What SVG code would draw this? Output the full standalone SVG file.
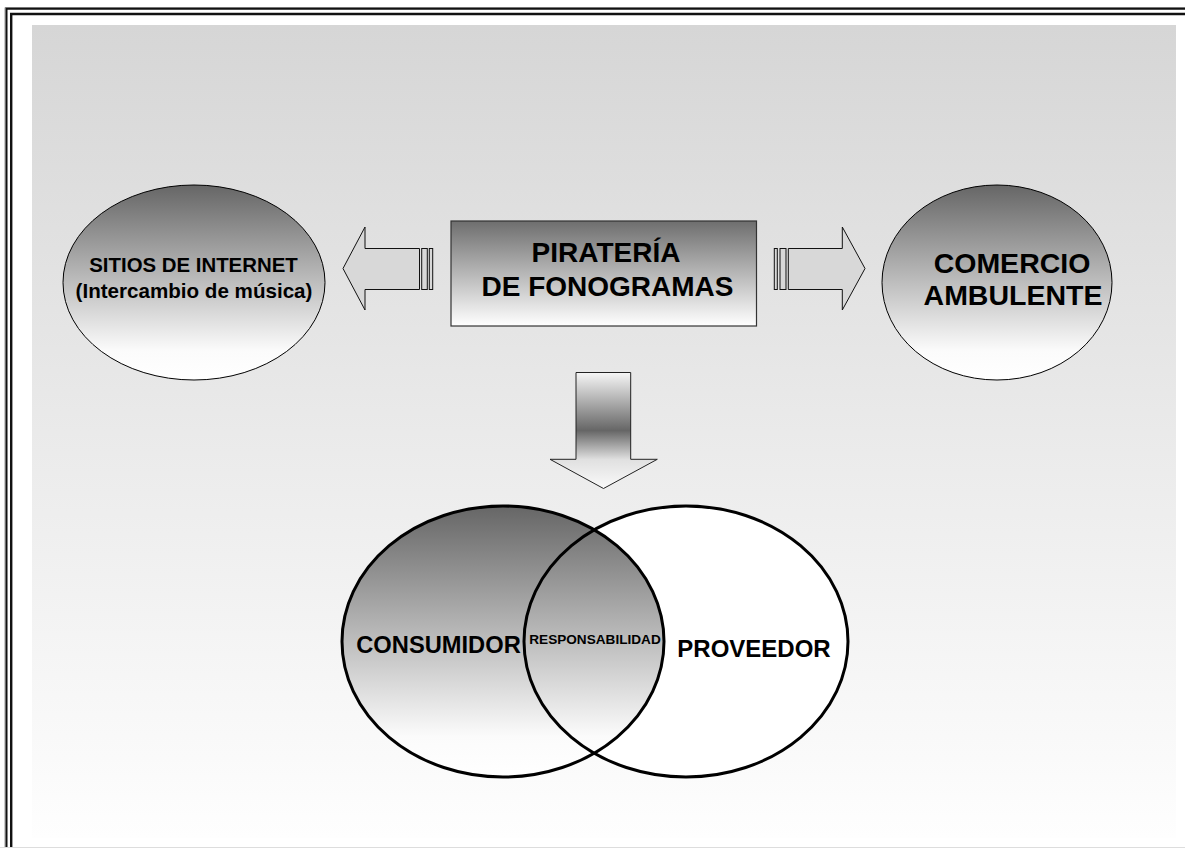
<svg xmlns="http://www.w3.org/2000/svg" width="1185" height="848" viewBox="0 0 1185 848">
<defs>
<linearGradient id="bg" x1="0" y1="0" x2="0" y2="1">
<stop offset="0" stop-color="#d6d6d6"/>
<stop offset="1" stop-color="#fefefe"/>
</linearGradient>
<linearGradient id="dk" x1="0" y1="0" x2="0" y2="1">
<stop offset="0" stop-color="#666666"/>
<stop offset="0.85" stop-color="#fbfbfb"/>
<stop offset="1" stop-color="#ffffff"/>
</linearGradient>
<linearGradient id="box" x1="0" y1="0" x2="0" y2="1">
<stop offset="0" stop-color="#6e6e6e"/>
<stop offset="1" stop-color="#ffffff"/>
</linearGradient>
<linearGradient id="down" x1="0" y1="0" x2="0" y2="1">
<stop offset="0" stop-color="#f6f6f6"/>
<stop offset="0.5" stop-color="#666666"/>
<stop offset="0.75" stop-color="#e0e0e0"/>
<stop offset="1" stop-color="#fafafa"/>
</linearGradient>
<style>
.t{font-family:"Liberation Sans",Arial,sans-serif;font-weight:bold;fill:#000;text-anchor:middle}
.ar{fill:#d8d8d8;stroke:#111;stroke-width:1}
.ell{stroke:#000;stroke-width:1}
.venn{stroke:#000;stroke-width:3;}
</style>
</defs>
<rect x="0" y="0" width="1185" height="848" fill="#ffffff"/>
<g id="frame" fill="none">
<path d="M5 850 V7.5 H1190" stroke="#999" stroke-width="1"/>
<path d="M6.5 850 V8.7 H1190" stroke="#111" stroke-width="2"/>
<path d="M11.2 850 V14 H1190" stroke="#111" stroke-width="2.4"/>
<line x1="0" y1="847.5" x2="1185" y2="847.5" stroke="#ddd" stroke-width="1"/>
</g>
<rect id="background" x="32" y="25" width="1144" height="813" fill="url(#bg)"/>
<g id="connectors">
<g id="arrow-left">
<path class="ar" d="M419.5 248.5 H365 V227 L343 268.5 L365 310 V289.5 H419.5 Z"/>
<rect class="ar" x="421.7" y="248.5" width="5.6" height="41"/>
<rect class="ar" x="429.3" y="248.5" width="3.4" height="41"/>
</g>
<g id="arrow-right">
<path class="ar" d="M788.3 248.5 H842.3 V227 L865 268.5 L842.3 310 V289.5 H788.3 Z"/>
<rect class="ar" x="774.3" y="248.5" width="3" height="41"/>
<rect class="ar" x="780" y="248.5" width="6" height="41"/>
</g>
<g id="arrow-down">
<path d="M576 372.5 H630.7 V459.3 H657.3 L603.5 488.5 L550 459.3 H576 Z" fill="url(#down)" stroke="#222" stroke-width="1"/>
</g>
</g>
<g id="node-center">
<rect x="451" y="221" width="305.5" height="105" fill="url(#box)" stroke="#333" stroke-width="1.2"/>
<text class="t" x="606" y="262" font-size="28">PIRATERÍA</text>
<text class="t" x="607.5" y="296" font-size="28">DE FONOGRAMAS</text>
</g>
<g id="node-internet">
<ellipse class="ell" cx="194" cy="282.5" rx="131" ry="97.5" fill="url(#dk)"/>
<text class="t" x="193.5" y="272" font-size="20.4">SITIOS DE INTERNET</text>
<text class="t" x="194" y="298" font-size="20.6">(Intercambio de música)</text>
</g>
<g id="node-comercio">
<ellipse class="ell" cx="997" cy="282.5" rx="115" ry="97.5" fill="url(#dk)"/>
<text class="t" x="1012" y="273" font-size="28.5">COMERCIO</text>
<text class="t" x="1013" y="305" font-size="28.5">AMBULENTE</text>
</g>
<g id="node-proveedor">
<ellipse cx="686" cy="641.5" rx="162" ry="135.5" fill="#ffffff"/>
</g>
<g id="node-consumidor">
<ellipse class="venn" cx="503" cy="641.5" rx="161" ry="135.5" fill="url(#dk)"/>
<text class="t" x="438.5" y="653" font-size="23.7">CONSUMIDOR</text>
</g>
<g id="node-proveedor-outline">
<ellipse class="venn" cx="686" cy="641.5" rx="162" ry="135.5" fill="none"/>
<text class="t" x="754" y="657" font-size="24">PROVEEDOR</text>
</g>
<g id="node-responsabilidad">
<text class="t" x="595" y="644" font-size="13.6">RESPONSABILIDAD</text>
</g>
</svg>
